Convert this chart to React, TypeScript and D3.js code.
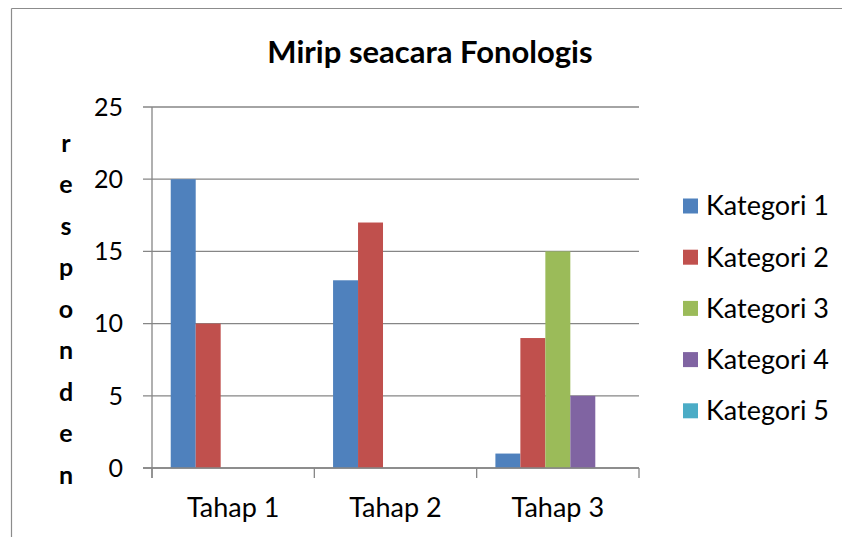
import React from "react";
import * as d3 from "d3";

const title = "Mirip seacara Fonologis";
const categories = ["Tahap 1", "Tahap 2", "Tahap 3"];
const seriesNames = ["Kategori 1", "Kategori 2", "Kategori 3", "Kategori 4", "Kategori 5"];
const kategori1 = [20, 13, 1];
const kategori2 = [10, 17, 9];
const kategori3 = [0, 0, 15];
const kategori4 = [0, 0, 5];
const kategori5 = [0, 0, 0];
const yTicks = [0, 5, 10, 15, 20, 25];
const yLabel = "responden";
const colors = ["#4F81BD", "#C0504D", "#9BBB59", "#8064A2", "#4BACC6"];

const W = 842;
const H = 537;
const FONT = "Lato, 'Open Sans', sans-serif";

export default function App() {
  const seriesValues = [kategori1, kategori2, kategori3, kategori4, kategori5];
  const plot = { left: 152, right: 639, top: 107, bottom: 468 };
  const x0 = d3.scaleBand<string>().domain(categories).range([plot.left, plot.right]).paddingInner(0).paddingOuter(0);
  const gapRatio = 1.5;
  const barW = x0.bandwidth() / (seriesNames.length + gapRatio);
  const x1 = d3
    .scaleBand<string>()
    .domain(seriesNames)
    .range([barW * gapRatio / 2, x0.bandwidth() - barW * gapRatio / 2])
    .padding(0);
  const y = d3.scaleLinear().domain([0, 25]).range([plot.bottom, plot.top]);
  const gridColor = "#868686";
  const boundaries = [...categories.map((c) => x0(c) as number), plot.right];

  return (
    <svg
      width={W}
      height={H}
      style={{ position: "absolute", left: 0, top: 0, background: "#fff" }}
      fontFamily={FONT}
    >
      <rect x={0} y={0} width={W} height={H} fill="#fff" />
      {/* outer border */}
      <line x1={11.5} y1={8.5} x2={W} y2={8.5} stroke="#8c8c8c" strokeWidth={1.2} />
      <line x1={11.5} y1={8.5} x2={11.5} y2={H} stroke="#8c8c8c" strokeWidth={1.2} />

      <text x={430} y={63} textAnchor="middle" fontSize={31} fontWeight="bold" fill="#000">
        {title}
      </text>

      {/* gridlines */}
      {yTicks.map((t) => (
        <line key={t} x1={plot.left - 9} x2={plot.right} y1={y(t)} y2={y(t)} stroke={gridColor} strokeWidth={1.3} />
      ))}
      {/* bars */}
      {categories.map((c, ci) => (
        <g key={c} transform={`translate(${x0(c)},0)`}>
          {seriesNames.map((s, si) => {
            const v = seriesValues[si][ci];
            if (!v) return null;
            return (
              <rect
                key={s}
                x={x1(s)}
                y={y(v)}
                width={x1.bandwidth()}
                height={y(0) - y(v)}
                fill={colors[si]}
              />
            );
          })}
        </g>
      ))}
      {/* axes */}
      <line x1={plot.left} x2={plot.left} y1={plot.top} y2={plot.bottom + 10} stroke={gridColor} strokeWidth={1.3} />
      <line x1={plot.left - 9} x2={plot.right} y1={y(0)} y2={y(0)} stroke={gridColor} strokeWidth={1.3} />
      {boundaries.map((b, i) => (
        <line key={i} x1={b} x2={b} y1={plot.bottom} y2={plot.bottom + 10} stroke={gridColor} strokeWidth={1.3} />
      ))}
      {yTicks.map((t) => (
        <text key={t} x={123} y={y(t)} dy="0.35em" textAnchor="end" fontSize={25} fill="#000">
          {t}
        </text>
      ))}
      {categories.map((c) => (
        <text key={c} x={(x0(c) as number) + x0.bandwidth() / 2} y={517} textAnchor="middle" fontSize={27} fill="#000">
          {c}
        </text>
      ))}
      {/* vertical-letter axis title */}
      {yLabel.split("").map((ch, i) => (
        <text key={i} x={66} y={143 + i * 41.5} dy="0.35em" textAnchor="middle" fontSize={25} fontWeight="bold" fill="#000">
          {ch}
        </text>
      ))}
      {/* legend */}
      {seriesNames.map((s, i) => (
        <g key={s} transform={`translate(683,${206 + i * 51.2})`}>
          <rect x={0} y={-7.5} width={15} height={15} fill={colors[i]} />
          <text x={23} y={0} dy="0.35em" fontSize={27} fill="#000">
            {s}
          </text>
        </g>
      ))}
    </svg>
  );
}
